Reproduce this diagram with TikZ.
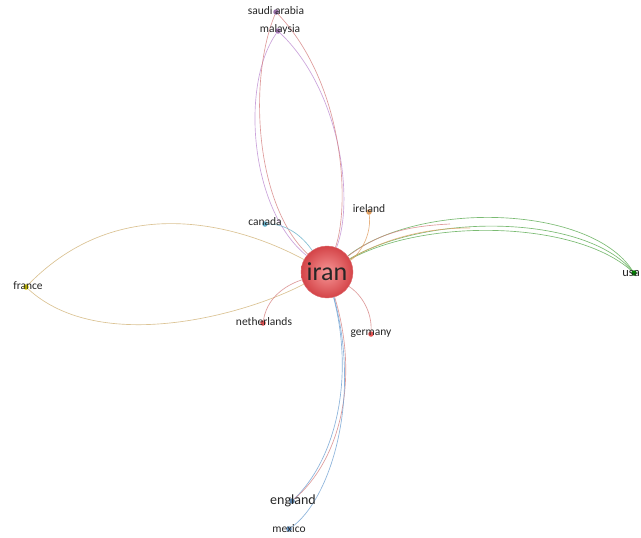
\documentclass[tikz,border=0pt]{standalone}
\usepackage{fontspec}
\setmainfont{Carlito}
\begin{document}
\begin{tikzpicture}[x=1pt,y=-1pt,
  lbl/.style={font=\fontsize{11.5}{13}\selectfont, text=black!85, inner sep=0pt},
  dotnode/.style={circle, inner sep=0pt, minimum size=5.5pt, fill=#1},
  edge/.style={draw=#1, line width=0.65pt, opacity=0.8},
]
\definecolor{ired}{RGB}{228,84,84}
\definecolor{ilight}{RGB}{246,150,150}
\definecolor{idark}{RGB}{212,68,72}
\definecolor{epink}{RGB}{214,130,130}
\definecolor{epurple}{RGB}{190,140,210}
\definecolor{eolive}{RGB}{210,180,120}
\definecolor{egreen}{RGB}{90,170,80}
\definecolor{eblue}{RGB}{110,160,210}
\definecolor{eteal}{RGB}{100,175,200}
\definecolor{eorange}{RGB}{225,160,100}
\useasboundingbox (0,0) rectangle (641,538);
\fill[white] (0,0) rectangle (641,538);

% country dots
\node[dotnode=epurple!80!black] (sau) at (276,12) {};
\node[dotnode=epurple!90!black] (mal) at (278,31) {};
\node[dotnode=eteal] (can) at (265,224) {};
\node[dotnode=eorange] (ire) at (369,212) {};
\node[dotnode=yellow!70!olive] (fra) at (26,287) {};
\node[dotnode=ired] (net) at (263,323) {};
\node[dotnode=ired] (ger) at (371,334) {};
\node[dotnode=green!50!black] (usa) at (634,273) {};
\node[dotnode=eblue!80!black] (eng) at (292,501) {};
\node[dotnode=eblue] (mex) at (289,529) {};

% central node
\node[circle, minimum size=52pt, inner sep=0pt, draw=idark!80, line width=0.4pt,
      shading=radial, inner color=ilight, outer color=idark] (iran) at (327,272) {};

% links
\draw[edge=epurple] (mal) .. controls (240,85) and (250,210) .. (iran);
\draw[edge=epurple] (mal) .. controls (340,90) and (355,200) .. (iran);
\draw[edge=epink] (sau) .. controls (248,80) and (255,205) .. (iran);
\draw[edge=epink] (sau) .. controls (345,85) and (350,205) .. (iran);
\draw[edge=eolive] (fra) .. controls (120,190) and (240,225) .. (iran);
\draw[edge=eolive] (fra) .. controls (100,355) and (245,315) .. (iran);
\draw[edge=egreen] (iran) .. controls (420,200) and (590,205) .. (usa);
\draw[edge=egreen] (iran) .. controls (430,212) and (585,215) .. (usa);
\draw[edge=egreen] (iran) .. controls (425,218) and (575,220) .. (usa);
\draw[edge=epink] (iran) .. controls (380,232) and (410,226) .. (450,224);
\draw[edge=eorange] (iran) .. controls (390,236) and (430,228) .. (470,228);
\draw[edge=eblue] (iran) .. controls (355,380) and (335,460) .. (eng);
\draw[edge=epink] (iran) .. controls (360,380) and (340,460) .. (eng);
\draw[edge=eblue] (iran) .. controls (362,400) and (330,500) .. (mex);
\draw[edge=eteal] (can) .. controls (290,224) and (305,240) .. (iran);
\draw[edge=eorange] (ire) .. controls (372,240) and (355,258) .. (iran);
\draw[edge=epink] (net) .. controls (268,292) and (295,282) .. (iran);
\draw[edge=epink] (iran) .. controls (362,295) and (372,312) .. (ger);

% labels
\node[lbl] at (276,11) {saudi arabia};
\node[lbl] at (280,29) {malaysia};
\node[lbl] at (265,222) {canada};
\node[lbl] at (369,209) {ireland};
\node[lbl] at (28,286) {france};
\node[lbl] at (264,322) {netherlands};
\node[lbl] at (371,334) {germany};
\node[lbl, anchor=east, font=\fontsize{12.5}{14}\selectfont] at (640,274) {usa};
\node[lbl, font=\fontsize{14}{16}\selectfont] at (293,501) {england};
\node[lbl] at (289,529) {mexico};
\node[inner sep=0pt, font=\fontsize{26}{28}\selectfont, text=black!85] at (iran) {iran};
\end{tikzpicture}
\end{document}
